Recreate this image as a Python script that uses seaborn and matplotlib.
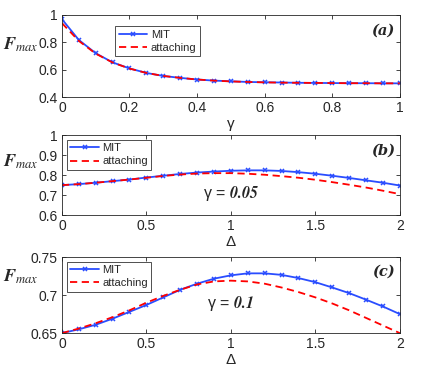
import numpy as np
import pandas as pd
import seaborn as sns
import matplotlib
matplotlib.use('Agg')
import matplotlib.pyplot as plt

# panel (a): F_max vs gamma
gamma = [0.0, 0.05, 0.1, 0.15, 0.2, 0.25, 0.3, 0.35, 0.4, 0.45, 0.5,
         0.55, 0.6, 0.65, 0.7, 0.75, 0.8, 0.85, 0.9, 0.95, 1.0]
mit_a = [0.969, 0.817, 0.72, 0.653, 0.609, 0.576, 0.554, 0.54, 0.528, 0.52, 0.515,
         0.51, 0.508, 0.506, 0.504, 0.503, 0.502, 0.501, 0.501, 0.50, 0.50]
att_a = [0.94, 0.81, 0.717, 0.652, 0.608, 0.576, 0.554, 0.54, 0.528, 0.52, 0.514,
         0.51, 0.507, 0.505, 0.504, 0.503, 0.502, 0.501, 0.501, 0.50, 0.50]

# panels (b), (c): F_max vs Delta
delta = [0.0, 0.1, 0.2, 0.3, 0.4, 0.5, 0.6, 0.7, 0.8, 0.9, 1.0,
         1.1, 1.2, 1.3, 1.4, 1.5, 1.6, 1.7, 1.8, 1.9, 2.0]
mit_b = [0.75, 0.755, 0.762, 0.77, 0.778, 0.788, 0.797, 0.806, 0.813, 0.818, 0.822,
         0.824, 0.824, 0.821, 0.815, 0.807, 0.797, 0.786, 0.774, 0.762, 0.748]
att_b = [0.75, 0.755, 0.762, 0.77, 0.778, 0.787, 0.796, 0.803, 0.808, 0.81, 0.81,
         0.807, 0.802, 0.795, 0.787, 0.777, 0.765, 0.752, 0.738, 0.722, 0.705]
mit_c = [0.65, 0.655, 0.661, 0.669, 0.678, 0.687, 0.697, 0.707, 0.715, 0.7216, 0.726,
         0.7286, 0.7286, 0.7266, 0.7224, 0.717, 0.710, 0.7026, 0.694, 0.685, 0.675]
att_c = [0.65, 0.656, 0.663, 0.671, 0.68, 0.69, 0.699, 0.707, 0.714, 0.718, 0.719,
         0.718, 0.715, 0.71, 0.704, 0.697, 0.689, 0.68, 0.67, 0.66, 0.65]

sns.set_style('ticks')
plt.rcParams['font.family'] = ['Liberation Sans', 'DejaVu Sans']
plt.rcParams['mathtext.fontset'] = 'stix'
plt.rcParams['xtick.direction'] = 'in'
plt.rcParams['ytick.direction'] = 'in'

blue = '#2a4dff'
red = '#ff0000'

fig = plt.figure(figsize=(4.36, 3.82), dpi=100)
boxes = [[0.142, 0.746, 0.775, 0.215],
         [0.142, 0.437, 0.775, 0.209],
         [0.142, 0.128, 0.775, 0.199]]

panels = [
    (gamma, mit_a, att_a, (0, 1), (0.4, 1), [0, 0.2, 0.4, 0.6, 0.8, 1], [0.4, 0.6, 0.8, 1],
     'γ', '(a)', None, (0.148, 0.9), 0.64, None),
    (delta, mit_b, att_b, (0, 2), (0.6, 1), [0, 0.5, 1, 1.5, 2], [0.6, 0.7, 0.8, 0.9, 1],
     'Δ', '(b)', '0.05', (0.005, 0.985), 0.67, 0.275),
    (delta, mit_c, att_c, (0, 2), (0.65, 0.75), [0, 0.5, 1, 1.5, 2], [0.65, 0.7, 0.75],
     'Δ', '(c)', '0.1', (0.005, 0.985), 0.74, 0.39),
]

for box, (x, mit, att, xl, yl, xt, yt, xlab, tag, g, legpos, fy, gy) in zip(boxes, panels):
    ax = fig.add_axes(box)
    df = pd.DataFrame({'x': x, 'MIT': mit, 'attaching': att})
    sns.lineplot(data=df, x='x', y='MIT', ax=ax, color=blue, lw=1.3,
                 marker='x', markersize=3.5, mew=1.1, mec=blue, label='MIT')
    sns.lineplot(data=df, x='x', y='attaching', ax=ax, color=red, lw=1.3,
                 dashes=(4, 2.5), label='attaching')
    ax.set_xlim(*xl)
    ax.set_ylim(*yl)
    ax.set_xticks(xt)
    ax.set_xticklabels([('%g' % v) for v in xt])
    ax.set_yticks(yt)
    ax.set_yticklabels([('%g' % v) for v in yt])
    ax.tick_params(labelsize=10, length=3, top=True, right=True, width=0.6, pad=3)
    for s in ax.spines.values():
        s.set_linewidth(0.6)
    ax.set_xlabel(xlab, fontsize=11, labelpad=1)
    ax.set_ylabel('')
    ax.text(-0.068, fy, '$\\mathbfit{F}_{\\mathit{max}}$', transform=ax.transAxes,
            ha='right', va='center', fontsize=13)
    ax.text(0.985, 0.81, tag, transform=ax.transAxes, ha='right', va='center',
            fontsize=10.5, family='DejaVu Serif', style='italic', weight='bold')
    if g is not None:
        ax.text(0.5, gy, 'γ = $\\mathbfit{' + g + '}$', transform=ax.transAxes,
                ha='center', va='center', fontsize=11.5)
    leg = ax.legend(loc='upper left', bbox_to_anchor=legpos, fontsize=8, frameon=True,
                    fancybox=False, edgecolor='black', handlelength=2.6,
                    borderpad=0.3, labelspacing=0.3, handletextpad=0.3, borderaxespad=0.3)
    leg.get_frame().set_linewidth(0.6)

fig.savefig('out.png', dpi=100)
